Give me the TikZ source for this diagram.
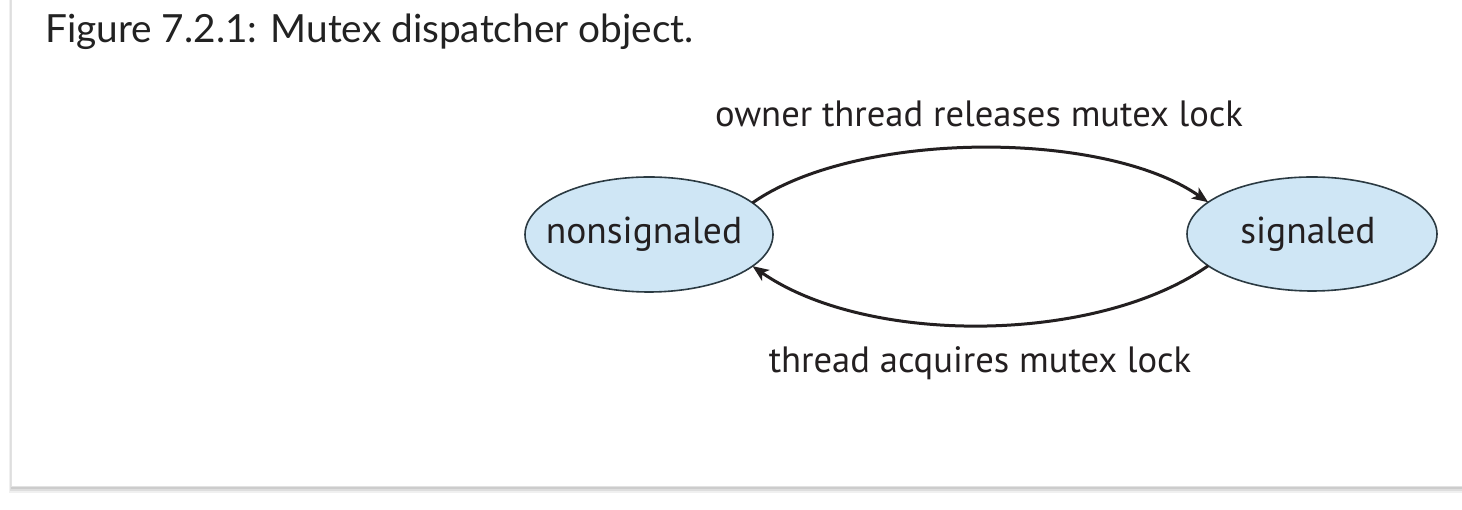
\documentclass[tikz,border=0pt]{standalone}
\usepackage{fontspec}
\setmainfont{Lato}
\newfontfamily\diagfont{PT Sans}
\usetikzlibrary{arrows.meta,shapes.geometric}
\definecolor{captxt}{HTML}{222222}
\definecolor{diagtxt}{HTML}{231F20}
\definecolor{statefill}{HTML}{CFE6F5}
\definecolor{stateline}{HTML}{2B3A42}
\definecolor{cardline}{HTML}{E2E2E2}
\tikzset{
  statenode/.style={ellipse, draw=stateline, line width=1.6pt, fill=statefill,
    inner sep=0pt, outer sep=0pt},
  statetext/.style={text=diagtxt, inner sep=0pt,
    font=\diagfont\fontsize{37.5}{42}\selectfont},
  arcline/.style={draw=diagtxt, line width=3pt,
    -{Stealth[length=16pt,width=13pt,inset=4pt]}},
  arclabel/.style={anchor=base, text=diagtxt, inner sep=0pt,
    font=\diagfont\fontsize{36.6}{42}\selectfont},
}
\begin{document}
\begin{tikzpicture}[x=1pt,y=1pt]
\useasboundingbox (0,0) rectangle (1462,510);
% card with shadow
\fill[black!6] (9,17) rectangle (1480,530);
\fill[black!13] (10,19) rectangle (1480,530);
\fill[black!20] (11,21) rectangle (1480,530);
\filldraw[fill=white,draw=cardline,line width=1pt] (11,23) rectangle (1480,530);
% caption
\node[anchor=base west, inner sep=0pt, text=captxt,
  font=\fontsize{38.8}{46}\selectfont] (cap) at (45,467) {Figure 7.2.1: Mutex dispatcher object.};
% states
\node[statenode, minimum width=248pt, minimum height=115pt] (ns) at (649,275.5) {};
\node[statetext] (nstext) at (644,276) {nonsignaled};
\node[statenode, minimum width=250pt, minimum height=114pt] (sig) at (1312,276) {};
\node[statetext] (sigtext) at (1308,276) {signaled};
% transitions
\draw[arcline] (ns.17) to[out=35,in=145,distance=127pt] (sig.163);
\draw[arcline] (sig.197) to[out=215,in=325,distance=138pt] (ns.343);
% labels
\node[arclabel] (top) at (979,383) {owner thread releases mutex lock};
\node[arclabel] (bot) at (980,137) {thread acquires mutex lock};
\end{tikzpicture}
\end{document}
